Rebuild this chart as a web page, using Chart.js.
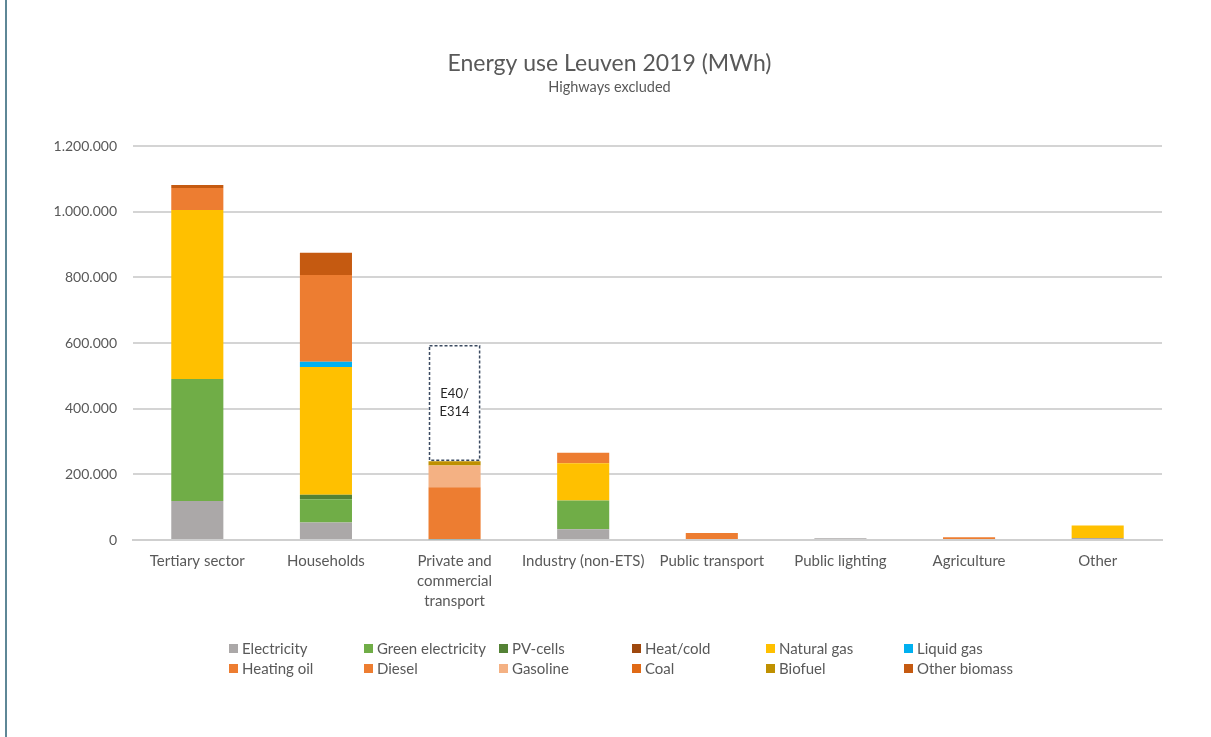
<!DOCTYPE html>
<html>
<head>
<meta charset="utf-8">
<script src="https://cdn.jsdelivr.net/npm/chart.js@4.4.1/dist/chart.umd.min.js"></script>
<style>
  body { margin: 0; background: #fff; }
  #wrap { position: relative; width: 1211px; height: 737px; overflow: hidden; }
  #edge { position: absolute; left: 5px; top: 0; width: 2px; height: 737px; background: #5E8796; }
  #legend {
    position: absolute; left: 229px; top: 638px;
    display: grid; grid-template-columns: 135px 135px 133px 134px 138px auto;
    grid-auto-rows: 20px;
    font-family: Lato, sans-serif; font-size: 15px; color: #595959;
  }
  #legend .item { display: flex; align-items: center; white-space: nowrap; }
  #legend .box { width: 9px; height: 9px; margin-right: 4px; }
</style>
</head>
<body>
<div id="wrap">
  <canvas id="chart" width="1211" height="737"></canvas>
  <div id="edge"></div>
  <div id="legend"></div>
</div>
<script>
const categories = ['Tertiary sector', 'Households', ['Private and', 'commercial', 'transport'],
  'Industry (non-ETS)', 'Public transport', 'Public lighting', 'Agriculture', 'Other'];

// MWh per sector
const electricity      = [119000, 53000,      0,  33000,     0, 5000,    0,  6000];
const greenElectricity = [371000, 71000,      0,  87000,     0,    0,    0,     0];
const pvCells          = [     0, 14000,      0,      0,     0,    0,    0,     0];
const heatCold         = [     0,     0,      0,      0,     0,    0,    0,     0];
const naturalGas       = [515000, 389000,     0, 114000,     0,    0,    0, 38000];
const liquidGas        = [     0, 16000,   2000,      0,     0,    0,    0,     0];
const heatingOil       = [ 67000, 264000,     0,  32000,     0,    0, 8000,     0];
const diesel           = [     0,     0, 159000,      0, 21000,    0,    0,     0];
const gasoline         = [     0,     0,  66000,      0,     0,    0,    0,     0];
const coal             = [     0,     0,      0,      0,     0,    0,    0,     0];
const biofuel          = [     0,     0,  13000,      0,     0,    0,    0,     0];
const otherBiomass     = [  9000, 68000,      0,      0,     0,    0,    0,     0];
// E40/E314 highway share, shown as an empty dashed box
const highways         = [     0,     0, 352000,      0,     0,    0,    0,     0];

const yTicks = [0, 200000, 400000, 600000, 800000, 1000000, 1200000];

const series = [
  ['Electricity', electricity, '#ABA8A8'],
  ['Green electricity', greenElectricity, '#70AD47'],
  ['PV-cells', pvCells, '#548235'],
  ['Heat/cold', heatCold, '#9E480E'],
  ['Natural gas', naturalGas, '#FFC000'],
  ['Liquid gas', liquidGas, '#00B0F0'],
  ['Heating oil', heatingOil, '#ED7D31'],
  ['Diesel', diesel, '#ED7D31'],
  ['Gasoline', gasoline, '#F4B183'],
  ['Coal', coal, '#E06A16'],
  ['Biofuel', biofuel, '#BF9000'],
  ['Other biomass', otherBiomass, '#C55A11']
];

const datasets = series.map(([label, data, color]) => ({
  label, data, backgroundColor: color, borderWidth: 0
}));
datasets.push({ label: 'E40/E314', data: highways, backgroundColor: '#ffffff', borderWidth: 0, isHighway: true });

const fmt = v => String(v).replace(/\B(?=(\d{3})+(?!\d))/g, '.');

// dashed outline + text on the highway box
const highwayBox = {
  id: 'highwayBox',
  afterDatasetsDraw(chart) {
    const ctx = chart.ctx;
    chart.data.datasets.forEach((ds, i) => {
      if (!ds.isHighway) return;
      chart.getDatasetMeta(i).data.forEach((bar, j) => {
        if (!ds.data[j]) return;
        const p = bar.getProps(['x', 'y', 'base', 'width'], true);
        const left = p.x - p.width / 2;
        ctx.save();
        ctx.strokeStyle = '#3B4A60';
        ctx.lineWidth = 1.5;
        ctx.setLineDash([3, 2]);
        ctx.strokeRect(left + 1, p.y, p.width - 2, p.base - p.y - 1);
        ctx.setLineDash([]);
        ctx.fillStyle = '#262626';
        ctx.font = '13px Lato, sans-serif';
        ctx.textAlign = 'center';
        ctx.textBaseline = 'middle';
        const mid = (p.y + p.base) / 2;
        ctx.fillText('E40/', p.x, mid - 10);
        ctx.fillText('E314', p.x, mid + 8);
        ctx.restore();
      });
    });
  }
};

// center title + subtitle over the plot area like the original
const titleShift = {
  id: 'titleShift',
  afterLayout(chart) {
    chart.boxes.forEach(b => {
      if (b.options && b.options.text && b.position === 'top') {
        b.left = 57;
        b.right = chart.chartArea.right;
      }
    });
  }
};

new Chart(document.getElementById('chart'), {
  type: 'bar',
  data: { labels: categories, datasets },
  plugins: [highwayBox, titleShift],
  options: {
    responsive: false,
    animation: false,
    layout: { padding: { top: 0, left: 0, right: 49, bottom: 0 } },
    datasets: { bar: { categoryPercentage: 0.405, barPercentage: 1 } },
    plugins: {
      legend: { display: false },
      tooltip: { enabled: false },
      title: {
        display: true,
        text: 'Energy use Leuven 2019 (MWh)',
        color: '#595959',
        font: { family: 'Lato', size: 23, weight: 'normal' },
        padding: { top: 50, bottom: 0.7 }
      },
      subtitle: {
        display: true,
        text: 'Highways excluded',
        color: '#595959',
        font: { family: 'Lato', size: 14.5, weight: 'normal' },
        padding: { top: 0, bottom: 50.3 }
      }
    },
    scales: {
      x: {
        stacked: true,
        grid: { display: false, drawTicks: false },
        border: { color: '#CFCFCF', width: 2 },
        ticks: {
          color: '#595959',
          font: { family: 'Lato', size: 15, lineHeight: 1.33 },
          padding: 11,
          maxRotation: 0,
          autoSkip: false
        },
        afterFit: s => { s.height = 197; }
      },
      y: {
        stacked: true,
        min: 0,
        max: 1200000,
        grid: { color: '#D4D4D4', lineWidth: 2, drawTicks: false },
        border: { display: false },
        afterBuildTicks: s => { s.ticks = yTicks.map(v => ({ value: v })); },
        ticks: {
          color: '#595959',
          font: { family: 'Lato', size: 14 },
          padding: 16,
          callback: v => fmt(v)
        },
        afterFit: s => { s.width = 133; }
      }
    }
  }
});

// legend in fixed columns, built from the series list
const legendEl = document.getElementById('legend');
series.forEach(([label, , color]) => {
  const item = document.createElement('div');
  item.className = 'item';
  const box = document.createElement('span');
  box.className = 'box';
  box.style.background = color;
  item.appendChild(box);
  item.appendChild(document.createTextNode(label));
  legendEl.appendChild(item);
});
</script>
</body>
</html>
